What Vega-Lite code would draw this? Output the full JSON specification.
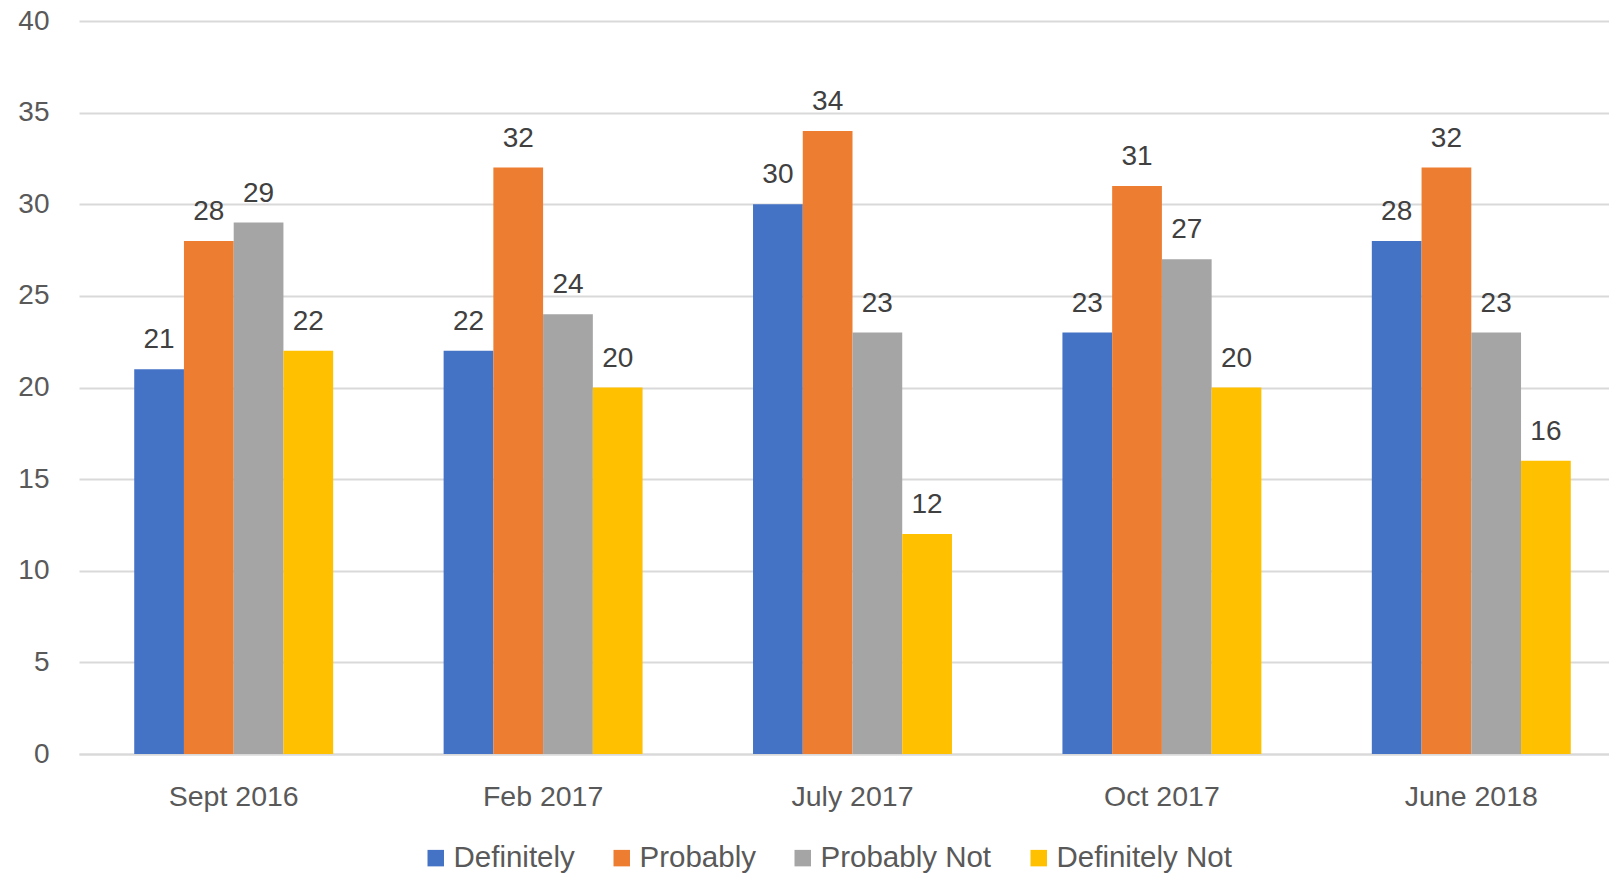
{
  "$schema": "https://vega.github.io/schema/vega-lite/v6.json",
  "width": 1547,
  "height": 733,
  "autosize": {"type": "none"},
  "padding": {"left": 79, "top": 21, "right": 0, "bottom": 121},
  "background": "white",
  "config": {
    "view": {"stroke": null},
    "font": "Liberation Sans"
  },
  "data": {
    "values": [
      {"date": "Sept 2016", "answer": "Definitely", "value": 21},
      {"date": "Sept 2016", "answer": "Probably", "value": 28},
      {"date": "Sept 2016", "answer": "Probably Not", "value": 29},
      {"date": "Sept 2016", "answer": "Definitely Not", "value": 22},
      {"date": "Feb 2017", "answer": "Definitely", "value": 22},
      {"date": "Feb 2017", "answer": "Probably", "value": 32},
      {"date": "Feb 2017", "answer": "Probably Not", "value": 24},
      {"date": "Feb 2017", "answer": "Definitely Not", "value": 20},
      {"date": "July 2017", "answer": "Definitely", "value": 30},
      {"date": "July 2017", "answer": "Probably", "value": 34},
      {"date": "July 2017", "answer": "Probably Not", "value": 23},
      {"date": "July 2017", "answer": "Definitely Not", "value": 12},
      {"date": "Oct 2017", "answer": "Definitely", "value": 23},
      {"date": "Oct 2017", "answer": "Probably", "value": 31},
      {"date": "Oct 2017", "answer": "Probably Not", "value": 27},
      {"date": "Oct 2017", "answer": "Definitely Not", "value": 20},
      {"date": "June 2018", "answer": "Definitely", "value": 28},
      {"date": "June 2018", "answer": "Probably", "value": 32},
      {"date": "June 2018", "answer": "Probably Not", "value": 23},
      {"date": "June 2018", "answer": "Definitely Not", "value": 16}
    ]
  },
  "encoding": {
    "x": {
      "field": "date",
      "type": "nominal",
      "sort": ["Sept 2016", "Feb 2017", "July 2017", "Oct 2017", "June 2018"],
      "scale": {"paddingInner": 0.357, "paddingOuter": 0.1785},
      "axis": {
        "title": null,
        "labelAngle": 0,
        "labelFontSize": 28.5,
        "labelColor": "#595959",
        "labelPadding": 28,
        "ticks": false,
        "domain": true,
        "domainColor": "#D9D9D9",
        "domainWidth": 2
      }
    },
    "xOffset": {
      "field": "answer",
      "type": "nominal",
      "sort": ["Definitely", "Probably", "Probably Not", "Definitely Not"],
      "scale": {"paddingInner": 0, "paddingOuter": 0}
    },
    "y": {
      "field": "value",
      "type": "quantitative",
      "scale": {"domain": [0, 40], "nice": false},
      "axis": {
        "title": null,
        "values": [0, 5, 10, 15, 20, 25, 30, 35, 40],
        "labelFontSize": 28,
        "labelColor": "#595959",
        "labelPadding": 30,
        "ticks": false,
        "domain": false,
        "grid": true,
        "gridColor": "#D9D9D9",
        "gridWidth": 2
      }
    }
  },
  "layer": [
    {
      "mark": {"type": "bar"},
      "encoding": {
        "color": {
          "field": "answer",
          "type": "nominal",
          "sort": ["Definitely", "Probably", "Probably Not", "Definitely Not"],
          "scale": {
            "domain": ["Definitely", "Probably", "Probably Not", "Definitely Not"],
            "range": ["#4472C4", "#ED7D31", "#A5A5A5", "#FFC000"]
          },
          "legend": {
            "title": null,
            "orient": "none",
            "legendX": 342,
            "legendY": 822,
            "direction": "horizontal",
            "symbolType": "square",
            "symbolSize": 272,
            "symbolStrokeWidth": 0,
            "labelFontSize": 29.5,
            "labelColor": "#595959",
            "labelOffset": 3,
            "columnPadding": 32,
            "labelLimit": 400
          }
        }
      }
    },
    {
      "mark": {"type": "text", "baseline": "alphabetic", "dy": -21, "fontSize": 28, "color": "#404040"},
      "encoding": {
        "text": {"field": "value", "type": "quantitative"}
      }
    }
  ]
}
